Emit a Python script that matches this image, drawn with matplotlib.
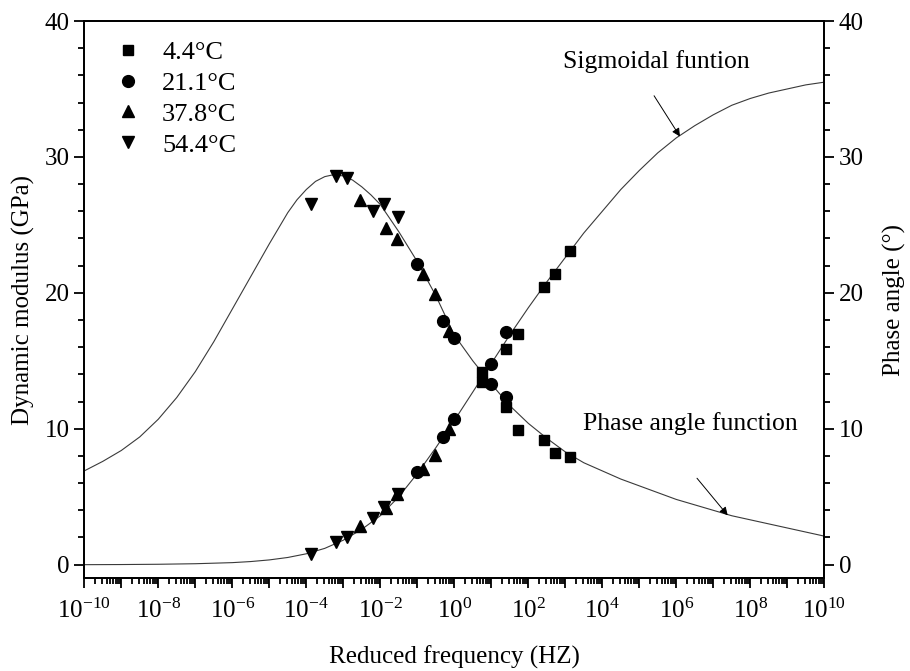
import matplotlib
matplotlib.use('Agg')
import matplotlib.pyplot as plt
import numpy as np
from matplotlib.ticker import FixedLocator, FuncFormatter, LogLocator, NullFormatter

plt.rcParams['font.family'] = ['Liberation Serif', 'DejaVu Serif']
plt.rcParams['mathtext.default'] = 'regular'

# measured data, x given as log10 of reduced frequency
temps = ['4.4°C', '21.1°C', '37.8°C', '54.4°C']

logf_44 = [0.74, 1.40, 1.73, 2.42, 2.72, 3.13]
mod_44 = [13.45, 15.9, 16.97, 20.4, 21.4, 23.1]
phase_44 = [14.2, 11.6, 9.9, 9.2, 8.2, 7.9]

logf_211 = [-1.0, -0.3, 0.0, 1.0, 1.4]
mod_211 = [6.83, 9.4, 10.7, 14.8, 17.1]
phase_211 = [22.1, 17.95, 16.65, 13.3, 12.3]

logf_378 = [-2.55, -1.85, -1.54, -0.84, -0.52, -0.15]
mod_378 = [2.82, 4.2, 5.18, 7.07, 8.05, 10.0]
phase_378 = [26.85, 24.76, 23.95, 21.4, 19.9, 17.2]

logf_544 = [-3.88, -3.2, -2.89, -2.2, -1.9, -1.51]
mod_544 = [0.76, 1.67, 2.03, 3.46, 4.25, 5.18]
phase_544 = [26.5, 28.56, 28.44, 26.0, 26.5, 25.6]

# fitted curves
sig_logf = [-10, -9, -8, -7, -6, -5.5, -5, -4.5, -4, -3.5, -3, -2.5, -2, -1.5, -1, -0.5,
            0, 0.5, 1, 1.5, 2, 2.5, 3, 3.5, 4, 4.5, 5, 5.5, 6, 6.5, 7, 7.5, 8, 8.5, 9, 9.5, 10]
sig_val = [0.0, 0.01, 0.03, 0.07, 0.15, 0.23, 0.35, 0.53, 0.8, 1.2, 1.8, 2.6, 3.6, 5.0, 6.7, 8.6,
           10.6, 12.7, 14.8, 16.9, 18.9, 20.8, 22.6, 24.4, 26.0, 27.6, 29.0, 30.3, 31.4, 32.3, 33.1,
           33.8, 34.3, 34.7, 35.0, 35.3, 35.5]

pha_logf = [-10, -9.5, -9, -8.5, -8, -7.5, -7, -6.5, -6, -5.5, -5, -4.5, -4.25, -4, -3.75, -3.5,
            -3.25, -3, -2.75, -2.5, -2.25, -2, -1.5, -1, -0.5, 0, 0.5, 1, 1.5, 2, 2.5, 3, 3.5,
            4, 4.5, 5, 5.5, 6, 6.5, 7, 7.5, 8, 8.5, 9, 9.5, 10]
pha_val = [6.9, 7.6, 8.4, 9.4, 10.7, 12.3, 14.2, 16.4, 18.8, 21.2, 23.6, 25.9, 26.85, 27.6, 28.2, 28.55,
           28.7, 28.6, 28.3, 27.8, 27.2, 26.5, 24.5, 22.3, 19.8, 16.9, 15.0, 13.3, 11.7, 10.4, 9.3,
           8.3, 7.5, 6.9, 6.3, 5.8, 5.3, 4.8, 4.4, 4.0, 3.6, 3.3, 3.0, 2.7, 2.4, 2.1]

x_labels_exp = list(range(-10, 11, 2))

fig = plt.figure(figsize=(9.1, 6.71), dpi=100)
ax = fig.add_axes([0.0926, 0.1382, 0.8132, 0.8305])

line_col = '#3a3a3a'
ax.plot(10.0**np.array(sig_logf), sig_val, color=line_col, lw=0.8, zorder=2)
ax.plot(10.0**np.array(pha_logf), pha_val, color=line_col, lw=0.8, zorder=2)

sets = [(logf_44, mod_44, phase_44, 's', 7.5),
        (logf_211, mod_211, phase_211, 'o', 8.5),
        (logf_378, mod_378, phase_378, '^', 9),
        (logf_544, mod_544, phase_544, 'v', 9)]
for (lf, m, p, mk, ms), name in zip(sets, temps):
	f = 10.0**np.array(lf)
	ax.plot(f, m, ls='none', marker=mk, ms=ms, color='black', mec='black', label=name, zorder=3)
	ax.plot(f, p, ls='none', marker=mk, ms=ms, color='black', mec='black', zorder=3)

ax.set_xscale('log')
ax.set_xlim(1e-10, 1e10)
ax.set_ylim(-1, 40)

ax.xaxis.set_major_locator(FixedLocator([10.0**e for e in range(-10, 11)]))
ax.xaxis.set_major_formatter(FuncFormatter(
	lambda v, pos: r'$\mathregular{10^{%d}}$' % round(np.log10(v)) if round(np.log10(v)) in x_labels_exp else ''))
ax.xaxis.set_minor_locator(LogLocator(base=10, subs=np.arange(2, 10), numticks=100))
ax.xaxis.set_minor_formatter(NullFormatter())

ax.yaxis.set_major_locator(FixedLocator([0, 10, 20, 30, 40]))
ax.yaxis.set_minor_locator(FixedLocator(np.arange(2, 40, 2)))

ax.tick_params(which='both', direction='out', top=False, labelsize=18, width=1.3)
ax.tick_params(which='major', length=7)
ax.tick_params(which='minor', length=4)
ax.tick_params(axis='x', which='major', pad=8)

ax2 = ax.twinx()
ax2.set_ylim(-1, 40)
ax2.yaxis.set_major_locator(FixedLocator([0, 10, 20, 30, 40]))
ax2.yaxis.set_minor_locator(FixedLocator(np.arange(2, 40, 2)))
ax2.tick_params(which='both', direction='out', labelsize=18, width=1.3)
ax2.tick_params(which='major', length=7)
ax2.tick_params(which='minor', length=4)

for a in (ax, ax2):
	for s in a.spines.values():
		s.set_linewidth(1.3)

ax.set_xlabel('Reduced frequency (HZ)', fontsize=18, labelpad=16)
ax.set_ylabel('Dynamic modulus (GPa)', fontsize=18, labelpad=7)
ax2.set_ylabel('Phase angle (°)', fontsize=18, labelpad=14)

ax.legend(loc='upper left', frameon=False, fontsize=19, handletextpad=0.8,
	borderaxespad=0.0, labelspacing=0.28, handlelength=1.0, bbox_to_anchor=(0.0266, 0.984))

ax.text(10**5.47, 37.0, 'Sigmoidal funtion', ha='center', va='center', fontsize=18.5)
ax.annotate('', xy=(10**6.1, 31.5), xytext=(10**5.4, 34.5),
	arrowprops=dict(arrowstyle='-|>', color='black', lw=0.7, mutation_scale=12,
		shrinkA=0, shrinkB=0))
ax.text(10**6.38, 10.4, 'Phase angle function', ha='center', va='center', fontsize=18.5)
ax.annotate('', xy=(10**7.39, 3.63), xytext=(10**6.56, 6.36),
	arrowprops=dict(arrowstyle='-|>', color='black', lw=0.7, mutation_scale=12,
		shrinkA=0, shrinkB=0))

plt.savefig('out.png', dpi=100)
